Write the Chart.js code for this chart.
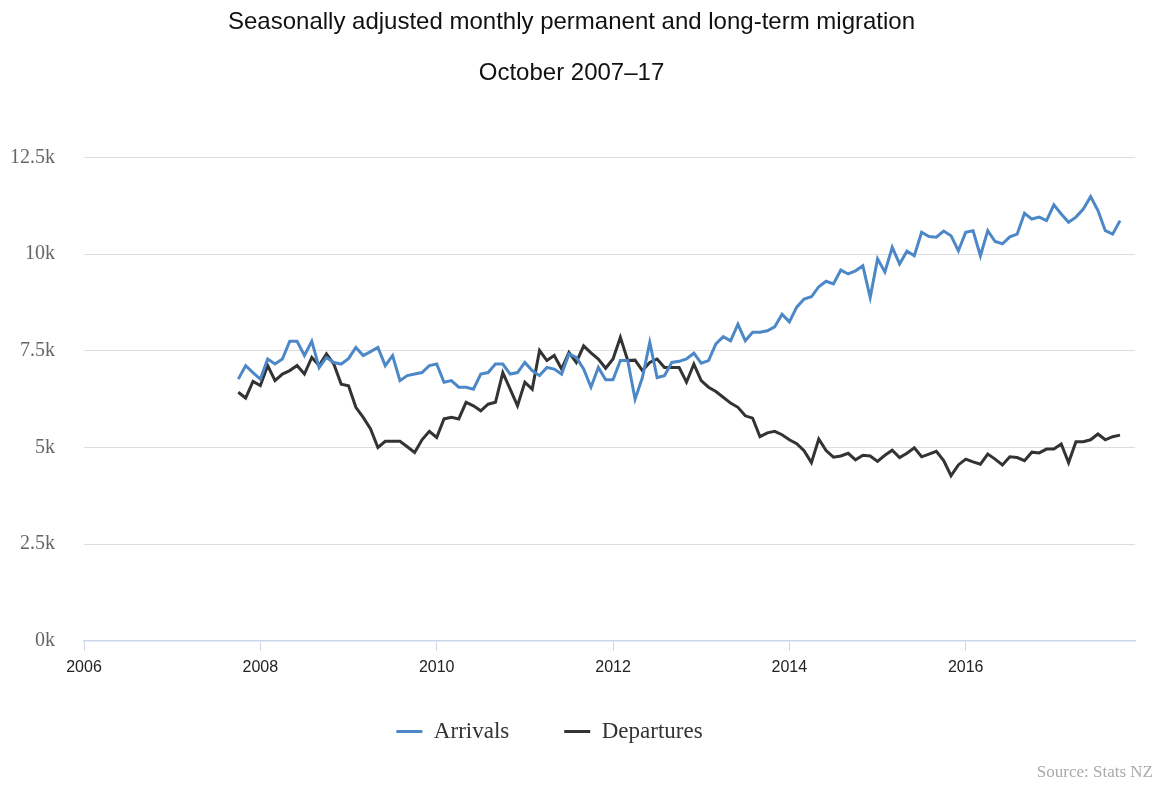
<!DOCTYPE html>
<html>
<head>
<meta charset="utf-8">
<script src="https://cdn.jsdelivr.net/npm/chart.js@4/dist/chart.umd.min.js"></script>
<style>
  body { margin: 0; background: #fff; }
</style>
</head>
<body>
<canvas id="graphic" width="1155" height="785"></canvas>
<script>
  // monthly series, October 2007 to October 2017
  const startYear = 2007;
  const startMonth = 10;

  const arrivals = [
    6770, 7120, 6940, 6770, 7290, 7160, 7290, 7750, 7750, 7380, 7750, 7070,
    7330, 7200, 7160, 7300, 7590, 7380, 7480, 7590, 7120, 7380, 6730, 6860,
    6900, 6940, 7120, 7160, 6690, 6730, 6560, 6560, 6510, 6900, 6940, 7160,
    7160, 6900, 6940, 7200, 6990, 6860, 7070, 7030, 6900, 7420, 7330, 7030,
    6560, 7070, 6750, 6750, 7250, 7250, 6250, 6810, 7720, 6810, 6860, 7200,
    7230, 7290, 7440, 7180, 7250, 7680, 7870, 7760, 8190, 7760, 7980, 7980,
    8020, 8120, 8450, 8250, 8630, 8840, 8900, 9160, 9300, 9230, 9590, 9490,
    9570, 9700, 8880, 9880, 9540, 10180, 9750, 10080, 9960, 10570, 10460, 10440,
    10600, 10480, 10090, 10570, 10610, 9960, 10610, 10330, 10270, 10450, 10520, 11060,
    10910, 10960, 10870, 11280, 11040, 10830, 10960, 11170, 11490, 11130, 10610, 10520,
    10870
  ];

  const departures = [
    6430, 6280, 6710, 6600, 7120, 6730, 6900, 6990, 7120, 6900, 7330, 7120,
    7420, 7160, 6640, 6600, 6040, 5780, 5480, 5000, 5160, 5160, 5160, 5020,
    4870, 5200, 5420, 5260, 5740, 5780, 5740, 6170, 6080, 5950, 6120, 6170,
    6940, 6510, 6080, 6690, 6510, 7510, 7250, 7380, 7030, 7460, 7200, 7630,
    7450, 7290, 7050, 7290, 7850, 7250, 7260, 6990, 7200, 7290, 7070, 7070,
    7070, 6690, 7160, 6730, 6560, 6450, 6300, 6150, 6040, 5820, 5760, 5280,
    5380, 5420, 5330, 5200, 5100, 4920, 4610, 5220, 4920, 4750, 4780, 4850,
    4680, 4800, 4780, 4640, 4800, 4930, 4740, 4850, 4990, 4760, 4830, 4900,
    4660, 4270, 4550, 4700, 4630, 4570, 4830, 4700, 4550, 4760, 4740, 4660,
    4880, 4860, 4960, 4960, 5090, 4610, 5150, 5150, 5200, 5350, 5200, 5280,
    5320
  ];

  const xTicks = [2006, 2008, 2010, 2012, 2014, 2016];
  const yTicks = [0, 2500, 5000, 7500, 10000, 12500];

  function toPoints(values) {
    return values.map((v, i) => ({ x: startYear + (startMonth - 1 + i) / 12, y: v }));
  }

  // source line bottom right, and a small nudge of the legend
  const extras = {
    id: "extras",
    afterLayout(chart) {
      const lg = chart.legend;
      lg.left -= 22; lg.right -= 22;
      lg.top -= 19; lg.bottom -= 19;
    },
    afterDraw(chart) {
      const c = chart.ctx;
      c.save();
      c.font = "17px 'Liberation Serif', serif";
      c.fillStyle = "#aaa";
      c.textAlign = "right";
      c.textBaseline = "middle";
      c.fillText("Source: Stats NZ", 1153, 773);
      c.restore();
    },
  };

  var ctx = document.getElementById("graphic").getContext("2d");
  var chart = new Chart(ctx, {
    type: "line",
    data: {
      datasets: [
        {
          label: "Arrivals",
          borderColor: "#4c88c7",
          backgroundColor: "#4c88c7",
          borderWidth: 3,
          pointRadius: 0,
          tension: 0,
          data: toPoints(arrivals),
        },
        {
          label: "Departures",
          borderColor: "#333333",
          backgroundColor: "#333333",
          borderWidth: 3,
          pointRadius: 0,
          tension: 0,
          data: toPoints(departures),
        },
      ],
    },
    options: {
      responsive: false,
      animation: false,
      layout: { padding: { left: 8, right: 20, top: 8, bottom: 13 } },
      plugins: {
        title: {
          display: true,
          text: "Seasonally adjusted monthly permanent and long-term migration",
          color: "#111",
          font: { family: "'Liberation Sans', Arial, sans-serif", size: 24, weight: "normal" },
          padding: { top: 0, bottom: 11 },
        },
        subtitle: {
          display: true,
          text: "October 2007\u201317",
          color: "#111",
          font: { family: "'Liberation Sans', Arial, sans-serif", size: 24, weight: "normal" },
          padding: { top: 11, bottom: 70 },
        },
        legend: {
          position: "bottom",
          labels: {
            usePointStyle: true,
            pointStyle: "line",
            pointStyleWidth: 26,
            color: "#333",
            padding: 55,
            font: { family: "'Liberation Serif', 'Times New Roman', serif", size: 23 },
          },
        },
        tooltip: { enabled: false },
      },
      scales: {
        x: {
          type: "linear",
          min: 2006,
          max: 2017.92,
          afterBuildTicks: (scale) => {
            scale.ticks = xTicks.map((v) => ({ value: v }));
          },
          ticks: {
            color: "#222",
            padding: 7,
            font: { family: "'Liberation Sans', Arial, sans-serif", size: 16 },
            callback: (v) => String(v),
          },
          grid: { drawOnChartArea: false, drawTicks: true, tickLength: 10, color: "#ccd6eb" },
          border: { color: "#ccd6eb", width: 1.5 },
        },
        y: {
          min: 0,
          max: 12500,
          afterBuildTicks: (scale) => {
            scale.ticks = yTicks.map((v) => ({ value: v }));
          },
          afterFit: (scale) => {
            scale.width = 76;
          },
          ticks: {
            color: "#666",
            padding: 29,
            font: { family: "'Liberation Serif', 'Times New Roman', serif", size: 20 },
            callback: (v) => v / 1000 + "k",
          },
          grid: { color: "#dddddd", drawTicks: false },
          border: { display: false },
        },
      },
    },
    plugins: [extras],
  });
</script>
</body>
</html>
